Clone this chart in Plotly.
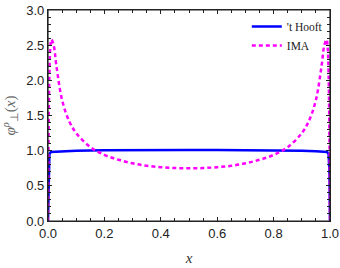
import plotly.graph_objects as go

# 't Hooft curve
hooft_x = [0.0, 0.002, 0.005, 0.01, 0.05, 0.1, 0.2, 0.3, 0.4, 0.5, 0.6, 0.7, 0.8, 0.9, 0.95, 0.99, 0.995, 0.998, 1.0]
hooft_y = [0.0, 0.7, 0.95, 0.98, 0.99, 1.0, 1.005, 1.01, 1.01, 1.01, 1.01, 1.01, 1.005, 1.0, 0.99, 0.98, 0.95, 0.7, 0.0]

# IMA curve
ima_x = [0.0, 0.002, 0.005, 0.008, 0.012, 0.02, 0.03, 0.05, 0.075, 0.1, 0.15, 0.2, 0.25, 0.3, 0.35, 0.4, 0.45, 0.5,
         0.55, 0.6, 0.65, 0.7, 0.75, 0.8, 0.85, 0.9, 0.925, 0.95, 0.97, 0.98, 0.988, 0.992, 0.995, 0.998, 1.0]
ima_y = [0.0, 1.2, 2.1, 2.45, 2.58, 2.5, 2.2, 1.72, 1.42, 1.25, 1.05, 0.94, 0.87, 0.82, 0.785, 0.765, 0.753, 0.75,
         0.753, 0.765, 0.785, 0.82, 0.87, 0.94, 1.05, 1.25, 1.42, 1.72, 2.2, 2.5, 2.58, 2.45, 2.1, 1.2, 0.0]

x_ticks = [0.0, 0.2, 0.4, 0.6, 0.8, 1.0]
x_tick_labels = ["0.0", "0.2", "0.4", "0.6", "0.8", "1.0"]
y_ticks = [0.0, 0.5, 1.0, 1.5, 2.0, 2.5, 3.0]
y_tick_labels = ["0.0", "0.5", "1.0", "1.5", "2.0", "2.5", "3.0"]

fig = go.Figure()
fig.add_trace(go.Scatter(x=hooft_x, y=hooft_y, mode="lines", name="'t Hooft",
                         line=dict(color="#0000ff", width=2.5)))
fig.add_trace(go.Scatter(x=ima_x, y=ima_y, mode="lines", name="IMA", line_shape="spline",
                         line=dict(color="#ff00ff", width=2.5, dash="4px,3px")))

axis_common = dict(showgrid=False, zeroline=False, showline=True, linecolor="#222", linewidth=1.2,
                   mirror="ticks", ticks="inside", ticklen=4, tickcolor="#222", tickwidth=1,
                   automargin=False, ticklabeloverflow="allow",
                   tickfont=dict(family="Liberation Sans, Arial", size=13, color="#222"))

fig.update_xaxes(range=[0, 1], tickvals=x_ticks, ticktext=x_tick_labels,
                 minor=dict(ticks="inside", dtick=0.05, ticklen=2.5, tickcolor="#222"),
                 title=dict(text="<i>x</i>", font=dict(family="Liberation Serif, Times New Roman", size=15, color="#333"), standoff=12),
                 **axis_common)
fig.update_yaxes(range=[0, 3], tickvals=y_ticks, ticktext=y_tick_labels,
                 minor=dict(ticks="inside", dtick=0.1, ticklen=2.5, tickcolor="#222"),
                 title=dict(text="<i>φ</i><sup><i>ρ</i></sup><sub>⊥</sub>(<i>x</i>)",
                            font=dict(family="Liberation Serif, Times New Roman", size=15, color="#666"), standoff=8),
                 **axis_common)

# frame around the plot area
fig.add_shape(type="rect", xref="paper", yref="paper", x0=0, y0=0, x1=1, y1=1,
              line=dict(color="#222", width=1.2), layer="above")

legend_font = dict(family="Liberation Serif, Times New Roman", size=11.5, color="#222")
fig.update_layout(width=340, height=268, margin=dict(l=48, r=10, t=10, b=47),
                  plot_bgcolor="white", paper_bgcolor="white",
                  # tick marks on top and right edges
                  xaxis2=dict(overlaying="x", anchor="y", side="top", range=[0, 1], tickvals=x_ticks,
                              showticklabels=False, showgrid=False, zeroline=False, showline=False,
                              ticks="inside", ticklen=4, tickcolor="#222",
                              minor=dict(ticks="inside", dtick=0.05, ticklen=2.5, tickcolor="#222")),
                  yaxis2=dict(overlaying="y", anchor="x", side="right", range=[0, 3], tickvals=y_ticks,
                              showticklabels=False, showgrid=False, zeroline=False, showline=False,
                              ticks="inside", ticklen=4, tickcolor="#222",
                              minor=dict(ticks="inside", dtick=0.1, ticklen=2.5, tickcolor="#222")),
                  legend=dict(x=0.705, y=0.99, xanchor="left", yanchor="top", bgcolor="rgba(0,0,0,0)",
                              font=legend_font, itemwidth=30, tracegroupgap=0))

fig.write_html("out.html", config={"displayModeBar": False},
               post_script="document.body.style.margin='0px';")
